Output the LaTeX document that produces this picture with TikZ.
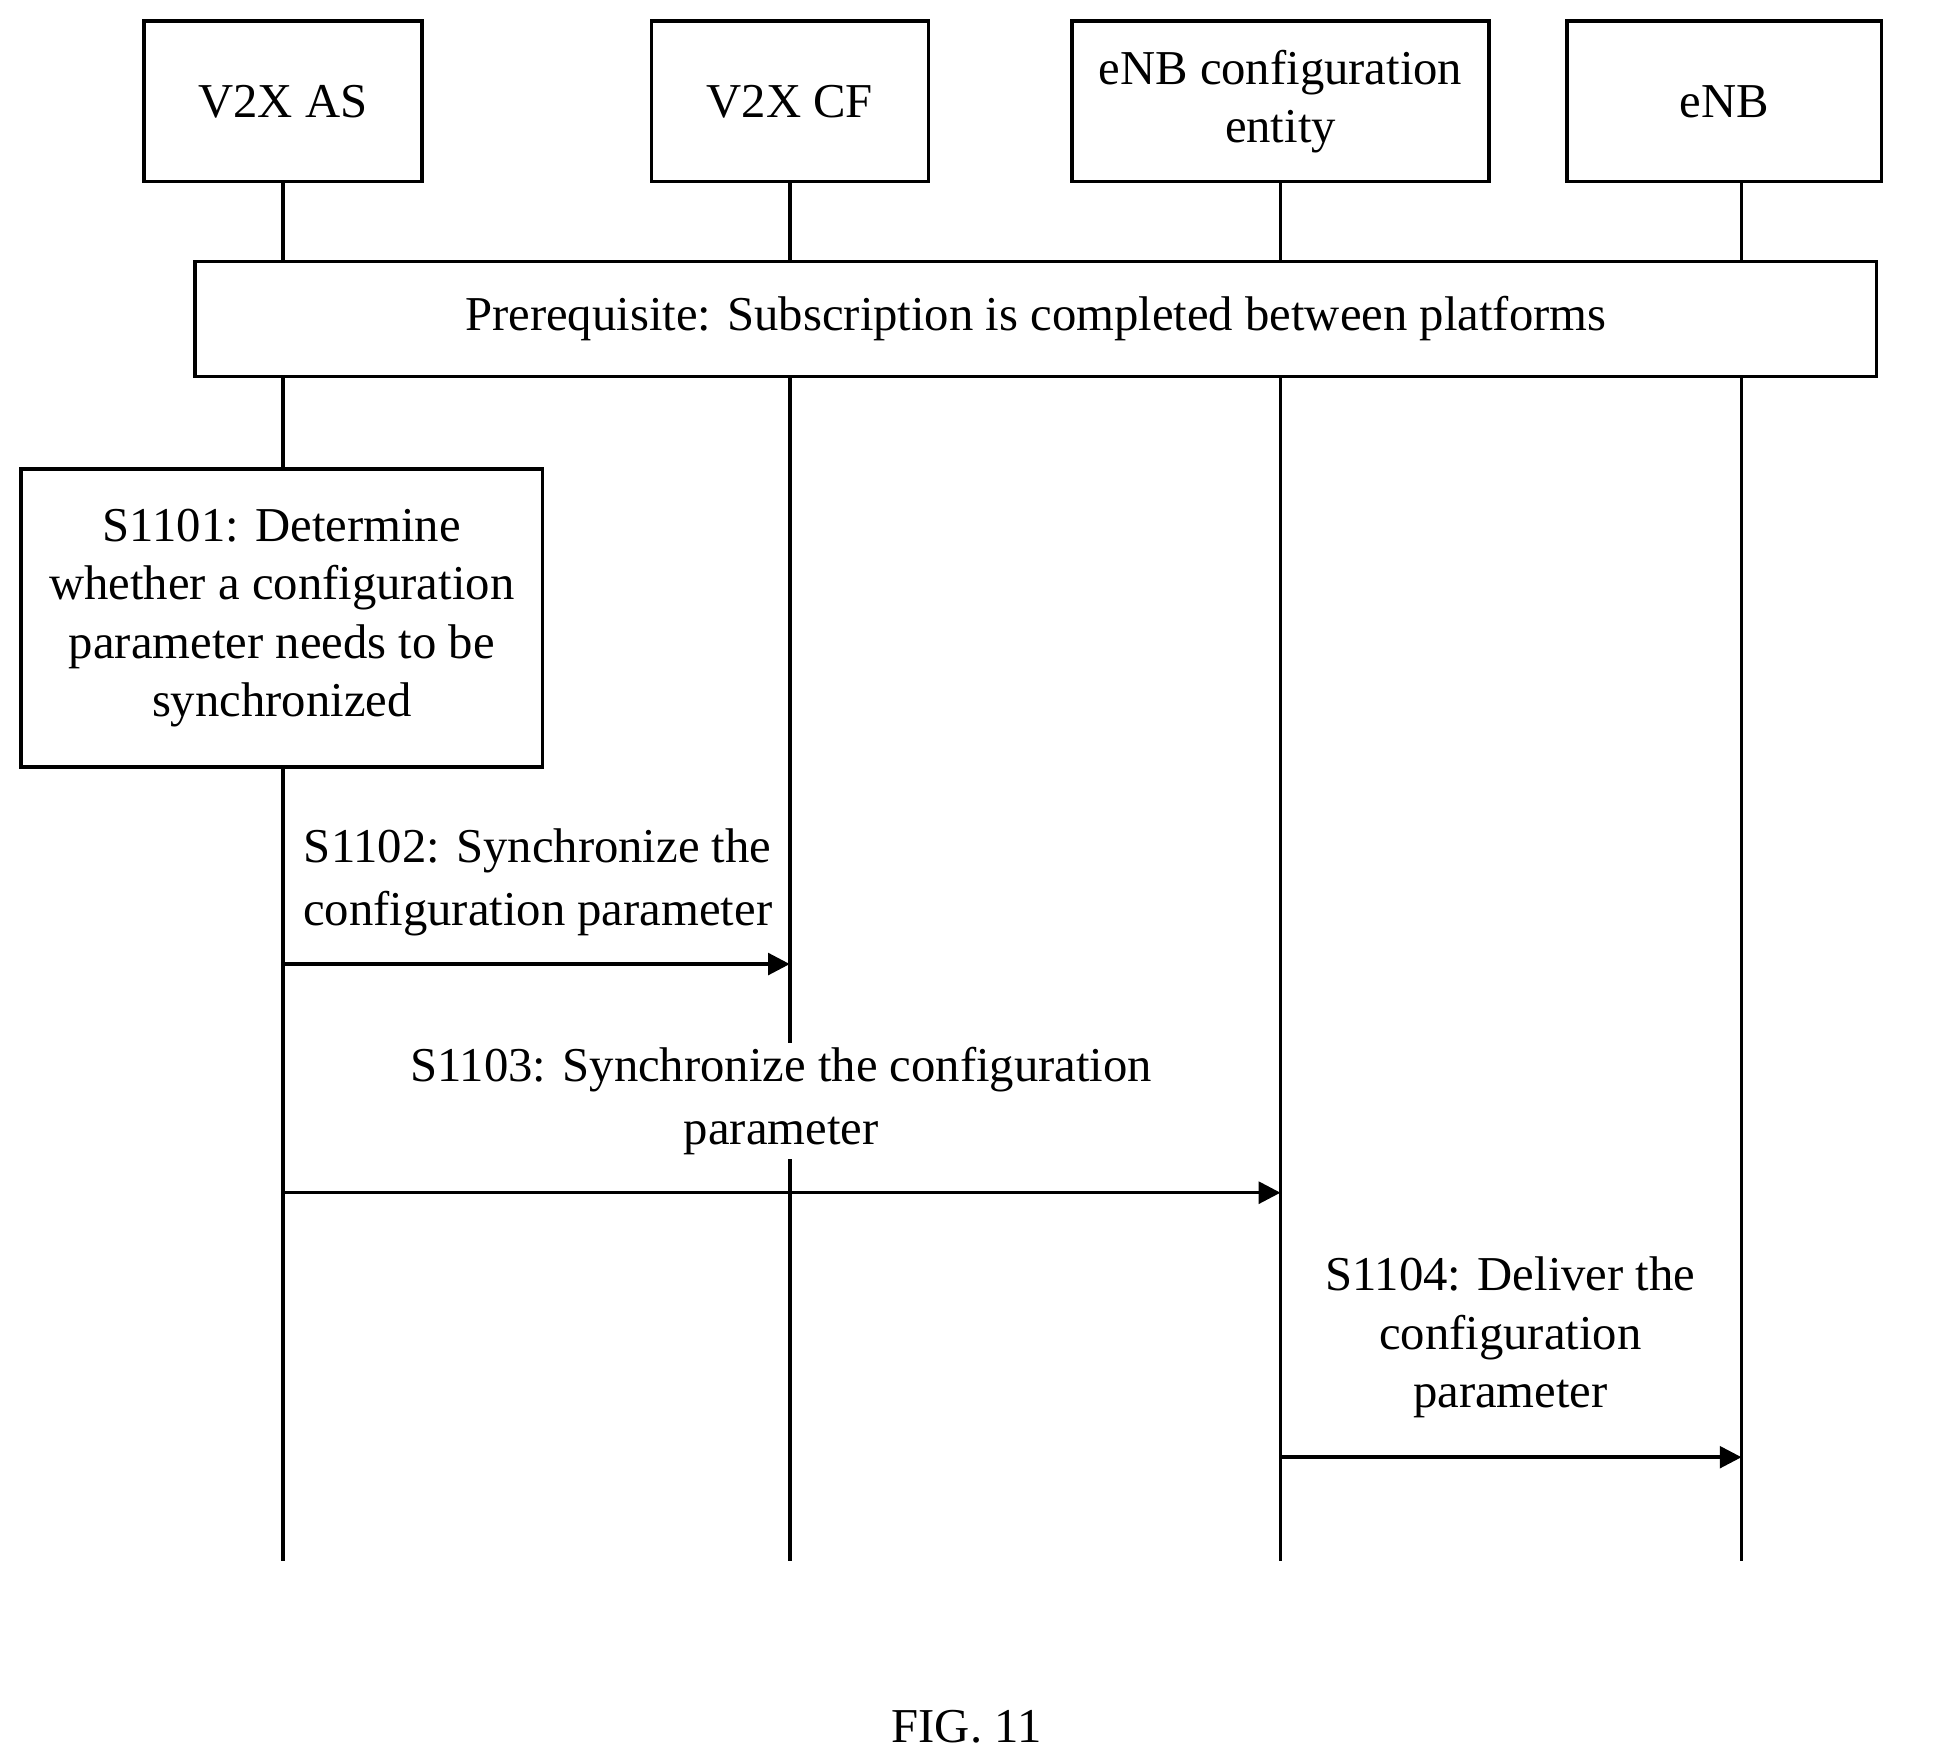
\documentclass[tikz,border=0pt]{standalone}
\usepackage{fontspec}
\setmainfont{Liberation Serif}
\usetikzlibrary{arrows.meta,positioning}
\begin{document}
\begin{tikzpicture}[x=0.01cm, y=-0.01cm, align = center, thick, font=\fontsize{11.2}{13.4}\selectfont,
  main/.style = {draw, rectangle, inner sep=0pt},
  life/.style = {draw=black},
  msg/.style = {draw=black, -{Triangle[length=5pt,width=5pt]}},
  lbl/.style = {fill=white, inner sep=1pt, font=\fontsize{11.2}{14.4}\selectfont}]
            \useasboundingbox (0,0) rectangle (1568,1427);
            \node[main, minimum width=2.25cm, minimum height=1.30cm] (as) at (229,82) {V2X AS};
            \node[main, minimum width=2.24cm, minimum height=1.30cm] (cf) at (639,82) {V2X CF};
            \node[main, minimum width=3.37cm, minimum height=1.30cm] (ec) at (1036,82) {eNB configuration\\entity};
            \node[main, minimum width=2.54cm, minimum height=1.30cm] (enb) at (1395,82) {eNB};
            \coordinate (as-end) at (229,1263);
            \coordinate (cf-end) at (639,1263);
            \coordinate (ec-end) at (1036,1263);
            \coordinate (enb-top) at (1409,147);
            \coordinate (enb-end) at (1409,1263);
            \draw[life] (as) -- (as-end);
            \draw[life] (cf) -- (cf-end);
            \draw[life] (ec) -- (ec-end);
            \draw[life] (enb-top) -- (enb-end);
            \node[main, fill=white, minimum width=13.60cm, minimum height=0.93cm] (pre) at (838,258) {Prerequisite: Subscription is completed between platforms};
            \node[main, fill=white, minimum width=4.22cm, minimum height=2.41cm] (s1101) at (228,500) {S1101: Determine\\whether a configuration\\parameter needs to be\\synchronized};
            % messages
            \coordinate (m1a) at (229,780);
            \coordinate (m1b) at (639,780);
            \draw[msg] (m1a) -- (m1b);
            \node[lbl] (l1102) at (435,714) {S1102: Synchronize the\\configuration parameter};
            \coordinate (m2a) at (229,965);
            \coordinate (m2b) at (1036,965);
            \draw[msg] (m2a) -- (m2b);
            \node[lbl] (l1103) at (632,891) {S1103: Synchronize the configuration\\parameter};
            \coordinate (m3a) at (1036,1179);
            \coordinate (m3b) at (1409,1179);
            \draw[msg] (m3a) -- (m3b);
            \node[inner sep=1pt] (l1104) at (1222,1082) {S1104: Deliver the\\configuration\\parameter};
            \node (fig) at (782,1397) {FIG. 11};
\end{tikzpicture}
\end{document}
